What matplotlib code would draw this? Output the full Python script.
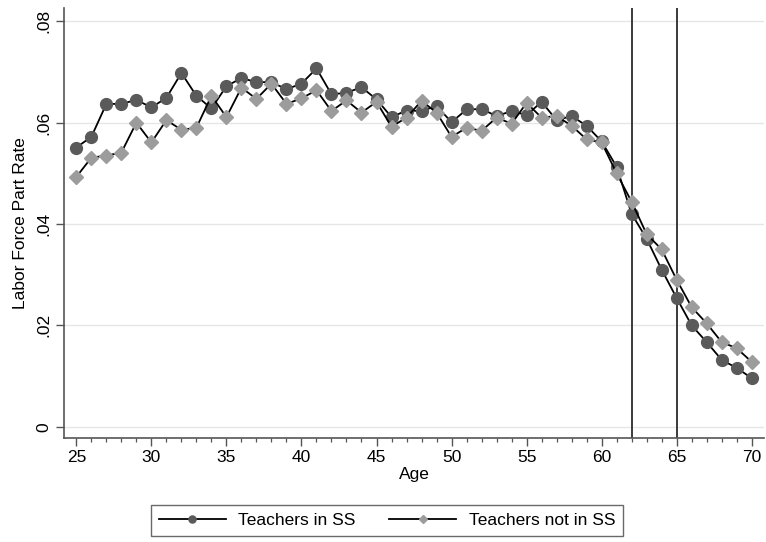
import matplotlib.pyplot as plt
from matplotlib.ticker import FixedLocator, MultipleLocator

plt.rcParams['font.family'] = ['Liberation Sans', 'DejaVu Sans']

# labor force participation by age
ages = list(range(25, 71))
in_ss = [0.0551, 0.0572, 0.0637, 0.0637, 0.0645, 0.0630, 0.0649, 0.0698, 0.0653, 0.0628,
         0.0672, 0.0688, 0.0680, 0.0680, 0.0666, 0.0677, 0.0707, 0.0656, 0.0659, 0.0670,
         0.0646, 0.0611, 0.0624, 0.0623, 0.0633, 0.0601, 0.0626, 0.0627, 0.0613, 0.0623,
         0.0615, 0.0641, 0.0605, 0.0613, 0.0594, 0.0563, 0.0513, 0.0420, 0.0371, 0.0310,
         0.0254, 0.0200, 0.0167, 0.0132, 0.0116, 0.0096]
not_in_ss = [0.0493, 0.0531, 0.0535, 0.0541, 0.0600, 0.0561, 0.0605, 0.0586, 0.0590, 0.0653,
             0.0611, 0.0669, 0.0647, 0.0677, 0.0637, 0.0648, 0.0664, 0.0623, 0.0644, 0.0620,
             0.0641, 0.0592, 0.0610, 0.0643, 0.0620, 0.0572, 0.0590, 0.0584, 0.0610, 0.0598,
             0.0639, 0.0610, 0.0613, 0.0594, 0.0567, 0.0561, 0.0500, 0.0444, 0.0380, 0.0350,
             0.0290, 0.0236, 0.0204, 0.0167, 0.0155, 0.0128]
cutoffs = [62, 65]
yticks = [0, 0.02, 0.04, 0.06, 0.08]
ytick_labels = ['0', '.02', '.04', '.06', '.08']

fig = plt.figure(figsize=(7.66, 5.42), dpi=100)
ax = fig.add_axes([0.083, 0.192, 0.915, 0.793])

for y in yticks:
    ax.axhline(y, color='#e6e6e6', lw=1.0, zorder=0)
for c in cutoffs:
    ax.axvline(c, color='#3a3a3a', lw=1.4, zorder=1)

ax.plot(ages, in_ss, color='black', lw=1.3, marker='o', ms=8.5,
        mfc='#5a5a5a', mec='#5a5a5a', label='Teachers in SS', zorder=3)
ax.plot(ages, not_in_ss, color='black', lw=1.3, marker='D', ms=7.5,
        mfc='#9c9c9c', mec='#9c9c9c', label='Teachers not in SS', zorder=4)

ax.set_xlim(24.15, 70.85)
ax.set_ylim(-0.0022, 0.0826)
ax.xaxis.set_major_locator(FixedLocator(range(25, 71, 5)))
ax.xaxis.set_minor_locator(MultipleLocator(1))
ax.yaxis.set_major_locator(FixedLocator(yticks))
ax.set_yticklabels(ytick_labels, rotation=90, va='center')

for side in ['top', 'right']:
    ax.spines[side].set_visible(False)
for side in ['left', 'bottom']:
    ax.spines[side].set_color('#555555')
    ax.spines[side].set_linewidth(1.2)
ax.tick_params(axis='both', which='major', length=6, width=1.0, color='#555555',
               labelsize=12.5, pad=3)
ax.tick_params(axis='x', which='minor', length=3, width=0.9, color='#555555')

ax.set_xlabel('Age', fontsize=12.5, labelpad=1)
ax.set_ylabel('Labor Force Part Rate', fontsize=12.5, labelpad=6)

leg = fig.legend(loc='center', bbox_to_anchor=(0.505, 0.04), ncol=2, fontsize=12.5,
                 frameon=True, fancybox=False, handlelength=3.9, handletextpad=0.7,
                 columnspacing=1.9, borderpad=0.45, markerscale=0.6)
leg.get_frame().set_edgecolor('#444444')
leg.get_frame().set_linewidth(1.0)

fig.savefig('out.png', dpi=100)
